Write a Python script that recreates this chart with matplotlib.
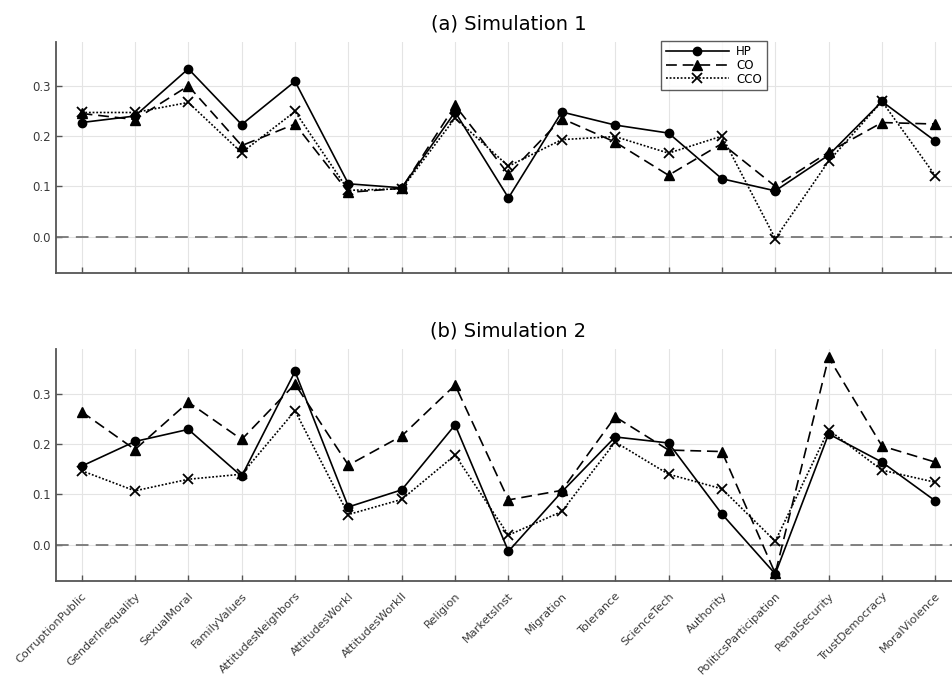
import matplotlib
matplotlib.use("Agg")
import matplotlib.pyplot as plt

CATEGORIAS = ["CorruptionPublic", "GenderInequality", "SexualMoral", "FamilyValues",
              "AttitudesNeighbors", "AttitudesWorkI", "AttitudesWorkII", "Religion",
              "MarketsInst", "Migration", "Tolerance", "ScienceTech", "Authority",
              "PoliticsParticipation", "PenalSecurity", "TrustDemocracy", "MoralViolence"]

# (a) Simulation 1
HP_1 = [0.227, 0.240, 0.334, 0.223, 0.309, 0.105, 0.097, 0.248, 0.077, 0.248,
        0.222, 0.206, 0.115, 0.091, 0.162, 0.269, 0.190]
CO_1 = [0.245, 0.233, 0.300, 0.181, 0.224, 0.088, 0.096, 0.261, 0.124, 0.235,
        0.188, 0.122, 0.185, 0.100, 0.168, 0.227, 0.224]
CCO_1 = [0.247, 0.247, 0.267, 0.167, 0.249, 0.092, 0.095, 0.236, 0.140, 0.193,
         0.199, 0.166, 0.200, -0.004, 0.150, 0.269, 0.121]

# (b) Simulation 2
HP_2 = [0.156, 0.205, 0.229, 0.136, 0.344, 0.075, 0.109, 0.238, -0.013, 0.105,
        0.214, 0.202, 0.061, -0.058, 0.220, 0.164, 0.087]
CO_2 = [0.264, 0.189, 0.283, 0.209, 0.319, 0.158, 0.216, 0.317, 0.089, 0.108,
        0.254, 0.188, 0.185, -0.057, 0.372, 0.196, 0.164]
CCO_2 = [0.147, 0.107, 0.130, 0.140, 0.266, 0.060, 0.090, 0.178, 0.019, 0.066,
         0.204, 0.140, 0.111, 0.007, 0.228, 0.148, 0.124]

TITULOS = ["(a) Simulation 1", "(b) Simulation 2"]
YTICKS = [0.0, 0.1, 0.2, 0.3]

plt.rcParams["font.family"] = "DejaVu Sans"

fig = plt.figure(figsize=(9.52, 6.8), dpi=100)
# o eixo passa um pouco da borda direita, como no original
ax1 = fig.add_axes([0.0588, 0.599, 0.9506, 0.3397])
ax2 = fig.add_axes([0.0588, 0.1456, 0.9506, 0.3407])

x = list(range(len(CATEGORIAS)))
cinza = "#555555"


def desenhar(ax, hp, co, cco, titulo):
    ax.plot(x, hp, color="black", lw=1.2, ls="-", marker="o", ms=6, label="HP")
    ax.plot(x, co, color="black", lw=1.2, ls=(0, (6.5, 3.5)), marker="^", ms=6.5,
            label="CO")
    ax.plot(x, cco, color="black", lw=1.2, ls=(0, (1.1, 1.1)), marker="x", ms=7,
            mew=1.3, label="CCO")
    ax.axhline(0, color="#777777", lw=1.3, ls=(0, (7, 4)), zorder=1)
    ax.set_xlim(-0.48, len(CATEGORIAS) - 1 + 0.48)
    ax.set_ylim(-0.072, 0.388)
    ax.set_yticks(YTICKS)
    ax.set_yticklabels([f"{v:.1f}" for v in YTICKS])
    ax.set_xticks(x)
    ax.grid(True, color="#e4e4e4", lw=0.8)
    ax.set_axisbelow(True)
    for lado in ("top", "right"):
        ax.spines[lado].set_visible(False)
    for lado in ("left", "bottom"):
        ax.spines[lado].set_color(cinza)
        ax.spines[lado].set_linewidth(1.3)
    ax.tick_params(direction="in", length=4, width=1, color=cinza,
                   labelsize=8.5, labelcolor="#3a3a3a")
    ax.set_title(titulo, fontsize=14, pad=9)


desenhar(ax1, HP_1, CO_1, CCO_1, TITULOS[0])
desenhar(ax2, HP_2, CO_2, CCO_2, TITULOS[1])

ax1.set_xticklabels([])
ax2.set_xticklabels(CATEGORIAS, rotation=45, ha="right", rotation_mode="anchor",
                    fontsize=8.2)
ax2.tick_params(axis="x", pad=7)

leg = ax1.legend(loc="upper right", bbox_to_anchor=(0.792, 1.03), fontsize=8.5,
                 handlelength=5.4, frameon=True, fancybox=False, borderpad=0.4,
                 labelspacing=0.05, handletextpad=0.6)
leg.get_frame().set_edgecolor("#333333")
leg.get_frame().set_linewidth(1.0)

fig.savefig("out.png", facecolor="white")
